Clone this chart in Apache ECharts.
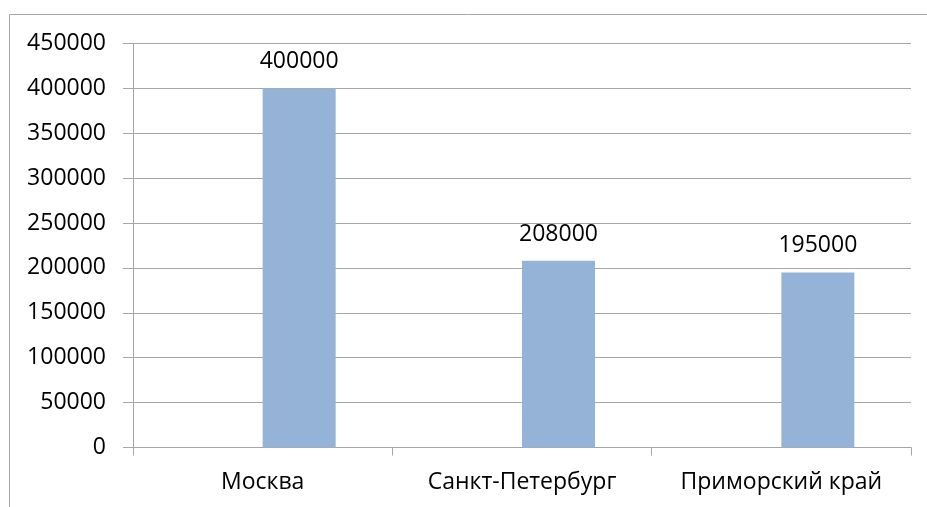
<!DOCTYPE html>
<html>
<head>
<meta charset="utf-8">
<script src="https://cdn.jsdelivr.net/npm/echarts@6/dist/echarts.min.js"></script>
<style>html,body{margin:0;padding:0;background:#fff}#c{width:927px;height:507px}</style>
</head>
<body>
<div id="c"></div>
<script>
const categories = ['Москва', 'Санкт-Петербург', 'Приморский край'];
const emptySeries = [null, null, null];
const values = [400000, 208000, 195000];
const yTicks = { min: 0, max: 450000, interval: 50000 };

const FONT = '"Open Sans", sans-serif';
const chart = echarts.init(document.getElementById('c'), null, { renderer: 'canvas' });
chart.setOption({
  animation: false,
  backgroundColor: '#ffffff',
  graphic: [{
    type: 'rect',
    shape: { x: 9.5, y: 14.5, width: 2000, height: 2000 },
    style: { fill: 'none', stroke: '#a6a6a6', lineWidth: 1 },
    silent: true
  }],
  grid: { left: 133, right: 16, top: 43.5, bottom: 59.5, containLabel: false },
  xAxis: {
    type: 'category',
    data: categories,
    axisLine: { lineStyle: { color: '#a6a6a6', width: 1 } },
    axisTick: { show: true, length: 8, lineStyle: { color: '#a6a6a6' }, alignWithLabel: false },
    axisLabel: { color: '#000', fontFamily: FONT, fontSize: 23, margin: 23, interval: 0 }
  },
  yAxis: {
    type: 'value',
    min: yTicks.min, max: yTicks.max, interval: yTicks.interval,
    axisLine: { show: true, lineStyle: { color: '#a6a6a6', width: 1 } },
    axisTick: { show: true, length: 10, lineStyle: { color: '#a6a6a6' } },
    splitLine: { show: true, lineStyle: { color: '#a6a6a6', width: 1 } },
    axisLabel: { color: '#000', fontFamily: FONT, fontSize: 23, margin: 27, formatter: v => String(v) }
  },
  series: [
    { type: 'bar', name: 'empty', data: emptySeries, barWidth: 73, barGap: '0%', itemStyle: { color: 'transparent' } },
    {
      type: 'bar', name: 'values', data: values, barWidth: 73, barGap: '0%',
      itemStyle: { color: '#95b3d7' },
      label: { show: true, position: 'top', distance: 15, color: '#000', fontFamily: FONT, fontSize: 23 }
    }
  ]
});
</script>
</body>
</html>
